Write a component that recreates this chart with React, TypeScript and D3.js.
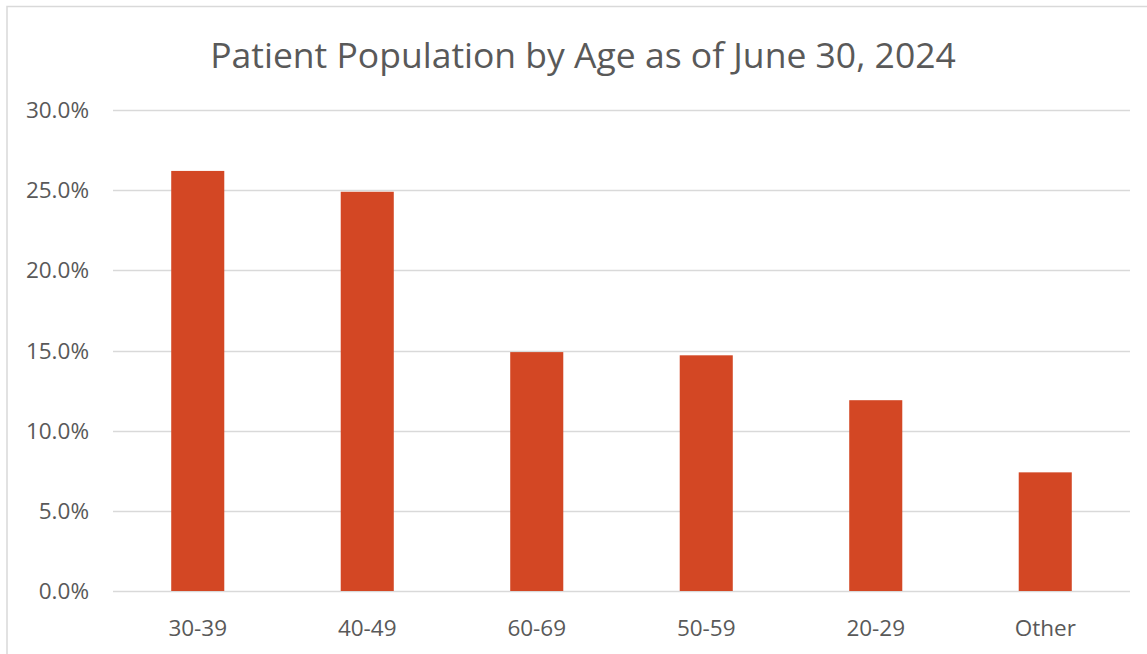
import React, { useEffect, useRef } from "react";
import * as d3 from "d3";

const categories = ["30-39", "40-49", "60-69", "50-59", "20-29", "Other"];
const shares = [26.2, 24.9, 14.9, 14.7, 11.9, 7.4];
const yTicks = [0, 5, 10, 15, 20, 25, 30];

const W = 1147;
const H = 654;

const App = () => {
  const ref = useRef<SVGSVGElement | null>(null);

  useEffect(() => {
    const svg = d3.select(ref.current);
    svg.selectAll("*").remove();

    const font = "'Open Sans', 'DejaVu Sans', sans-serif";
    const textColor = "#595959";
    const gridColor = "#d9d9d9";

    // chart border (the frame runs off the right and bottom edges)
    svg
      .append("rect")
      .attr("x", 7)
      .attr("y", 6.5)
      .attr("width", 1160)
      .attr("height", 700)
      .attr("fill", "white")
      .attr("stroke", gridColor)
      .attr("stroke-width", 1.5);

    const x = d3
      .scaleBand()
      .domain(categories)
      .range([113, 1130])
      .paddingInner(0.687)
      .paddingOuter(0.3435);

    const y = d3.scaleLinear().domain([0, 30]).range([591, 110]);

    // gridlines
    svg
      .append("g")
      .selectAll("line")
      .data(yTicks)
      .enter()
      .append("line")
      .attr("x1", 113)
      .attr("x2", 1130)
      .attr("y1", (d) => Math.round(y(d)) + 0.5)
      .attr("y2", (d) => Math.round(y(d)) + 0.5)
      .attr("stroke", gridColor)
      .attr("stroke-width", 1.3);

    // y labels
    svg
      .append("g")
      .selectAll("text")
      .data(yTicks)
      .enter()
      .append("text")
      .attr("x", 89)
      .attr("y", (d) => y(d) + 8)
      .attr("text-anchor", "end")
      .attr("font-family", font)
      .attr("font-size", 22.5)
      .attr("fill", textColor)
      .text((d) => d3.format(".1f")(d) + "%");

    // bars
    svg
      .append("g")
      .selectAll("rect")
      .data(shares)
      .enter()
      .append("rect")
      .attr("x", (_, i) => x(categories[i])!)
      .attr("y", (d) => y(d))
      .attr("width", x.bandwidth())
      .attr("height", (d) => y(0) - y(d))
      .attr("fill", "#d34724");

    // x labels
    svg
      .append("g")
      .selectAll("text")
      .data(categories)
      .enter()
      .append("text")
      .attr("x", (d) => x(d)! + x.bandwidth() / 2)
      .attr("y", 636)
      .attr("text-anchor", "middle")
      .attr("font-family", font)
      .attr("font-size", 22.5)
      .attr("fill", textColor)
      .text((d) => d);

    // title
    svg
      .append("text")
      .attr("x", 583)
      .attr("y", 68)
      .attr("text-anchor", "middle")
      .attr("font-family", font)
      .attr("font-size", 35.5)
      .attr("fill", textColor)
      .text("Patient Population by Age as of June 30, 2024");
  }, []);

  return (
    <svg
      ref={ref}
      width={W}
      height={H}
      style={{ position: "absolute", left: 0, top: 0, background: "white" }}
    />
  );
};

export default App;
